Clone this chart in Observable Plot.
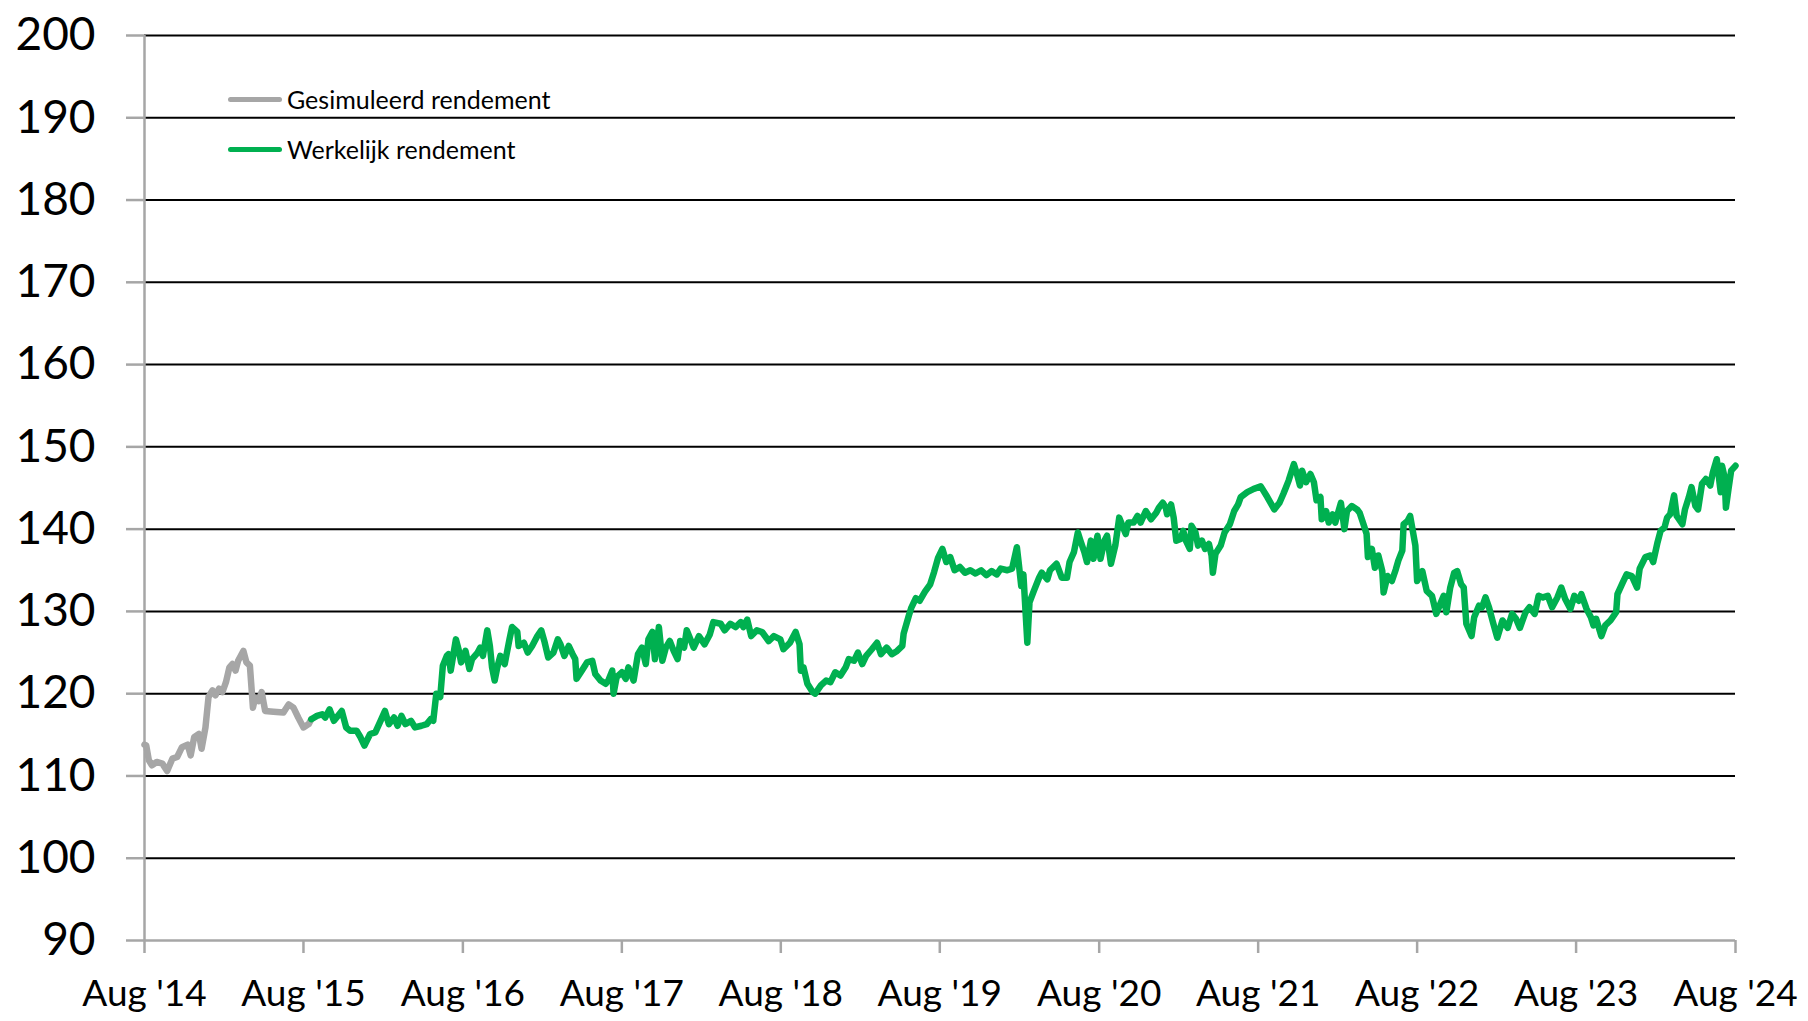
<!DOCTYPE html>
<html>
<head>
<meta charset="utf-8">
<script src="https://cdn.jsdelivr.net/npm/d3@7"></script>
<script src="https://cdn.jsdelivr.net/npm/@observablehq/plot@0.6"></script>
<style>
  html, body { margin: 0; padding: 0; background: #fff; }
  #wrap { position: relative; width: 1808px; height: 1021px; font-family: Lato, "Open Sans", sans-serif; }
  #legend { position: absolute; left: 228px; top: 74px; }
  .row { display: flex; align-items: center; height: 50px; font-size: 25px; color: #000; }
  .sw { width: 54px; height: 5px; border-radius: 3px; margin-right: 5px; }
</style>
</head>
<body>
<div id="wrap">
  <div id="chart"></div>
  <div id="legend"></div>
</div>
<script>
// ---- data ----
const seriesNames = ["Gesimuleerd rendement", "Werkelijk rendement"];
const seriesColors = ["#A6A6A6", "#00B050"];

const yTicks = [90, 100, 110, 120, 130, 140, 150, 160, 170, 180, 190, 200];
const xTickDates = ["2014-08-01","2015-08-01","2016-08-01","2017-08-01","2018-08-01","2019-08-01","2020-08-01","2021-08-01","2022-08-01","2023-08-01","2024-08-01"];
const xTickLabels = ["Aug '14","Aug '15","Aug '16","Aug '17","Aug '18","Aug '19","Aug '20","Aug '21","Aug '22","Aug '23","Aug '24"];

const grayDates = ["2014-08-01","2014-08-05","2014-08-11","2014-08-18","2014-08-29","2014-09-11","2014-09-22","2014-10-04","2014-10-15","2014-10-26","2014-11-08","2014-11-15","2014-11-23","2014-12-04","2014-12-10","2014-12-19","2014-12-26","2015-01-04","2015-01-11","2015-01-19","2015-01-27","2015-02-04","2015-02-12","2015-02-19","2015-02-26","2015-03-04","2015-03-16","2015-03-23","2015-03-31","2015-04-07","2015-04-12","2015-04-20","2015-04-27","2015-05-05","2015-05-24","2015-06-16","2015-06-28","2015-07-09","2015-07-20","2015-08-01","2015-08-13","2015-08-19"];
const grayValues = [113.8,113.7,111.9,111.3,111.7,111.5,110.6,112.1,112.3,113.5,113.8,112.5,114.7,115.1,113.3,115.9,119.6,120.4,119.8,120.6,120.2,121.4,123.2,123.6,122.8,124.0,125.2,123.8,123.4,118.3,119.5,119.1,120.2,117.9,117.8,117.7,118.7,118.3,117.1,115.9,116.3,116.9];

const greenDates = ["2015-08-19","2015-09-01","2015-09-13","2015-09-20","2015-09-30","2015-10-10","2015-10-16","2015-10-28","2015-11-07","2015-11-16","2015-12-01","2015-12-10","2015-12-19","2016-01-01","2016-01-13","2016-01-25","2016-02-04","2016-02-13","2016-02-25","2016-03-04","2016-03-13","2016-03-22","2016-04-04","2016-04-13","2016-04-28","2016-05-10","2016-05-19","2016-05-25","2016-06-01","2016-06-10","2016-06-16","2016-06-25","2016-06-29","2016-07-04","2016-07-16","2016-07-22","2016-07-28","2016-08-07","2016-08-16","2016-08-22","2016-09-04","2016-09-10","2016-09-16","2016-09-26","2016-10-02","2016-10-07","2016-10-13","2016-10-19","2016-10-26","2016-11-05","2016-11-16","2016-11-22","2016-12-04","2016-12-07","2016-12-19","2016-12-28","2017-01-07","2017-01-19","2017-01-28","2017-02-04","2017-02-13","2017-02-25","2017-03-07","2017-03-13","2017-03-22","2017-04-01","2017-04-10","2017-04-16","2017-04-19","2017-05-01","2017-05-13","2017-05-25","2017-06-01","2017-06-13","2017-06-25","2017-07-01","2017-07-10","2017-07-13","2017-07-20","2017-08-01","2017-08-10","2017-08-16","2017-08-28","2017-09-07","2017-09-16","2017-09-25","2017-10-01","2017-10-10","2017-10-16","2017-10-25","2017-11-02","2017-11-10","2017-11-19","2017-11-28","2017-12-07","2017-12-13","2017-12-22","2017-12-28","2018-01-07","2018-01-13","2018-01-25","2018-02-07","2018-02-19","2018-02-27","2018-03-16","2018-03-25","2018-04-07","2018-04-19","2018-05-01","2018-05-07","2018-05-16","2018-05-25","2018-06-07","2018-06-19","2018-07-04","2018-07-16","2018-07-31","2018-08-07","2018-08-22","2018-09-04","2018-09-13","2018-09-16","2018-09-22","2018-10-01","2018-10-13","2018-10-19","2018-11-01","2018-11-13","2018-11-23","2018-12-04","2018-12-16","2018-12-28","2019-01-04","2019-01-16","2019-01-25","2019-02-04","2019-02-13","2019-02-26","2019-03-10","2019-03-19","2019-04-01","2019-04-13","2019-04-25","2019-05-07","2019-05-10","2019-05-22","2019-05-28","2019-06-07","2019-06-16","2019-06-28","2019-07-10","2019-07-19","2019-07-28","2019-08-07","2019-08-16","2019-08-25","2019-09-04","2019-09-16","2019-09-28","2019-10-10","2019-10-22","2019-11-04","2019-11-16","2019-11-28","2019-12-10","2019-12-19","2020-01-03","2020-01-14","2020-01-25","2020-01-29","2020-02-04","2020-02-09","2020-02-18","2020-02-23","2020-03-04","2020-03-16","2020-03-22","2020-04-04","2020-04-10","2020-04-25","2020-05-07","2020-05-19","2020-05-25","2020-06-04","2020-06-13","2020-06-19","2020-06-28","2020-07-04","2020-07-13","2020-07-19","2020-07-28","2020-08-04","2020-08-13","2020-08-19","2020-08-28","2020-09-07","2020-09-16","2020-09-22","2020-10-01","2020-10-07","2020-10-19","2020-10-28","2020-11-04","2020-11-16","2020-11-28","2020-12-10","2020-12-16","2020-12-25","2021-01-01","2021-01-04","2021-01-13","2021-01-19","2021-01-25","2021-02-04","2021-02-10","2021-02-16","2021-02-25","2021-03-01","2021-03-10","2021-03-16","2021-03-25","2021-04-01","2021-04-10","2021-04-16","2021-04-19","2021-04-25","2021-05-07","2021-05-16","2021-05-28","2021-06-07","2021-06-16","2021-06-22","2021-07-07","2021-07-22","2021-08-07","2021-08-22","2021-09-07","2021-09-19","2021-09-28","2021-10-04","2021-10-10","2021-10-22","2021-10-29","2021-11-05","2021-11-10","2021-11-19","2021-11-29","2021-12-07","2021-12-13","2021-12-22","2021-12-25","2022-01-04","2022-01-10","2022-01-19","2022-01-25","2022-02-07","2022-02-15","2022-02-21","2022-03-04","2022-03-16","2022-03-22","2022-04-01","2022-04-07","2022-04-10","2022-04-19","2022-04-26","2022-05-04","2022-05-13","2022-05-16","2022-05-25","2022-06-04","2022-06-13","2022-06-19","2022-06-28","2022-07-01","2022-07-10","2022-07-16","2022-07-22","2022-07-28","2022-08-01","2022-08-13","2022-08-23","2022-09-04","2022-09-14","2022-09-23","2022-10-01","2022-10-07","2022-10-16","2022-10-25","2022-11-01","2022-11-10","2022-11-16","2022-11-22","2022-12-04","2022-12-10","2022-12-21","2022-12-28","2023-01-05","2023-01-13","2023-01-22","2023-02-01","2023-02-13","2023-02-25","2023-03-07","2023-03-16","2023-03-25","2023-04-07","2023-04-16","2023-04-28","2023-05-07","2023-05-17","2023-05-28","2023-06-07","2023-06-19","2023-06-28","2023-07-07","2023-07-19","2023-07-28","2023-08-07","2023-08-13","2023-08-25","2023-09-04","2023-09-10","2023-09-16","2023-09-28","2023-10-07","2023-10-19","2023-11-01","2023-11-04","2023-11-16","2023-11-25","2023-12-07","2023-12-19","2023-12-25","2024-01-07","2024-01-19","2024-01-25","2024-02-04","2024-02-11","2024-02-20","2024-02-26","2024-03-04","2024-03-13","2024-03-19","2024-04-01","2024-04-07","2024-04-16","2024-04-22","2024-05-01","2024-05-07","2024-05-16","2024-05-25","2024-06-04","2024-06-10","2024-06-19","2024-06-23","2024-06-28","2024-07-01","2024-07-07","2024-07-10","2024-07-16","2024-07-22","2024-08-01"];
const greenValues = [116.9,117.3,117.5,117.1,118.1,116.7,117.1,117.9,115.9,115.5,115.5,114.7,113.7,115.1,115.3,116.7,117.9,116.3,117.1,116.1,117.3,116.3,116.7,115.9,116.1,116.3,116.9,116.7,120.0,119.6,123.4,124.6,124.8,122.8,126.6,125.4,123.8,125.2,123.0,124.2,125.0,125.6,124.6,127.7,125.8,123.2,121.6,123.2,124.6,123.6,126.6,128.1,127.5,125.8,126.2,125.0,125.8,127.0,127.7,126.4,124.4,125.0,126.6,126.0,124.6,125.8,124.8,124.2,121.8,122.8,123.8,124.0,122.4,121.6,121.2,121.6,122.8,120.0,122.0,122.6,121.8,123.2,121.6,124.8,125.6,123.6,126.6,127.5,124.2,128.1,124.0,125.6,126.4,125.2,124.2,126.4,125.6,127.7,126.4,125.6,127.0,126.0,127.2,128.7,128.5,127.7,128.5,128.1,128.7,128.1,129.0,127.0,127.7,127.5,126.4,127.0,126.6,125.4,126.2,127.5,126.0,122.8,123.2,121.2,120.2,120.0,121.0,121.6,121.4,122.6,122.2,123.2,124.2,124.0,125.0,123.6,124.6,125.4,126.2,124.8,125.6,124.8,125.2,125.8,127.3,129.5,130.5,131.6,131.3,132.4,133.3,134.8,136.5,137.6,136.0,136.6,135.0,135.4,134.7,135.0,134.6,135.0,134.4,134.9,134.5,135.2,135.0,135.2,137.8,136.0,133.1,134.5,126.2,131.1,132.5,134.1,134.7,133.9,135.0,135.8,134.1,134.1,136.0,137.2,139.6,138.6,137.2,136.0,138.6,136.4,139.2,136.4,138.6,139.2,135.8,138.0,141.4,140.6,139.4,140.8,140.8,141.6,140.8,142.2,141.2,142.0,142.6,143.2,142.6,141.8,143.0,141.4,138.6,138.8,139.8,138.6,137.6,140.4,139.6,138.0,138.6,137.6,138.2,136.8,134.7,137.0,138.0,139.6,140.6,142.2,143.0,143.9,144.5,144.9,145.2,143.9,142.4,143.2,144.3,145.1,145.9,147.9,146.7,145.3,147.1,145.7,146.7,145.7,143.5,143.9,141.2,142.2,140.8,141.8,140.8,143.2,140.0,142.2,142.8,142.4,142.0,140.4,139.4,136.6,137.6,135.3,136.8,134.9,132.3,134.3,133.7,135.1,136.2,137.4,140.6,141.0,141.6,139.8,138.0,133.7,134.9,132.5,131.9,129.7,130.9,131.9,129.9,132.9,134.7,134.9,133.3,132.9,128.5,127.0,129.3,130.7,130.5,131.7,130.5,128.7,126.8,128.9,128.0,129.7,129.1,128.0,129.9,130.5,129.7,131.9,131.7,131.9,130.5,131.7,132.9,131.5,130.3,131.9,131.3,132.1,130.3,129.3,128.3,129.1,127.0,128.3,128.9,129.9,132.1,133.5,134.5,134.3,132.9,135.2,136.6,136.8,136.0,138.4,139.8,140.2,141.4,141.8,144.1,141.6,140.6,142.4,143.9,145.1,142.8,142.4,145.5,146.1,145.3,146.9,148.5,146.7,144.5,147.7,146.3,142.6,144.9,147.1,147.7];

// ---- build ----
const grayData = grayDates.map((d, i) => ({date: new Date(d), value: grayValues[i]}));
const greenData = greenDates.map((d, i) => ({date: new Date(d), value: greenValues[i]}));
const xTicks = xTickDates.map(d => new Date(d));
const axisGray = "#A6A6A6";

const chart = Plot.plot({
  width: 1808,
  height: 1021,
  marginLeft: 144,
  marginRight: 73,
  marginTop: 35,
  marginBottom: 81,
  style: {fontFamily: "Lato, 'Open Sans', sans-serif", background: "#fff", color: "#000"},
  x: {type: "utc", domain: [xTicks[0], xTicks[xTicks.length - 1]]},
  y: {domain: [yTicks[0], yTicks[yTicks.length - 1]]},
  marks: [
    Plot.ruleY(yTicks.slice(1), {stroke: "#000", strokeWidth: 2}),
    Plot.ruleY([yTicks[0]], {stroke: axisGray, strokeWidth: 2.5}),
    Plot.ruleX([xTicks[0]], {stroke: axisGray, strokeWidth: 2.5}),
    Plot.axisY({
      ticks: yTicks, tickSize: 18, tickPadding: 31, fontSize: 46,
      stroke: axisGray, strokeWidth: 2.5, fill: "#000", label: null,
      tickFormat: d => String(d)
    }),
    Plot.axisX({
      ticks: xTicks, tickSize: 13, tickPadding: 26, fontSize: 37,
      stroke: axisGray, strokeWidth: 2.5, fill: "#000", label: null,
      tickFormat: (d, i) => xTickLabels[i]
    }),
    Plot.lineY(grayData, {x: "date", y: "value", stroke: seriesColors[0], strokeWidth: 6.5, strokeLinejoin: "round", strokeLinecap: "round"}),
    Plot.lineY(greenData, {x: "date", y: "value", stroke: seriesColors[1], strokeWidth: 6.5, strokeLinejoin: "round", strokeLinecap: "round"})
  ]
});
document.getElementById("chart").appendChild(chart);

const legend = document.getElementById("legend");
seriesNames.forEach((name, i) => {
  const row = document.createElement("div");
  row.className = "row";
  const sw = document.createElement("div");
  sw.className = "sw";
  sw.style.background = seriesColors[i];
  const t = document.createElement("span");
  t.textContent = name;
  row.appendChild(sw);
  row.appendChild(t);
  legend.appendChild(row);
});
</script>
</body>
</html>
